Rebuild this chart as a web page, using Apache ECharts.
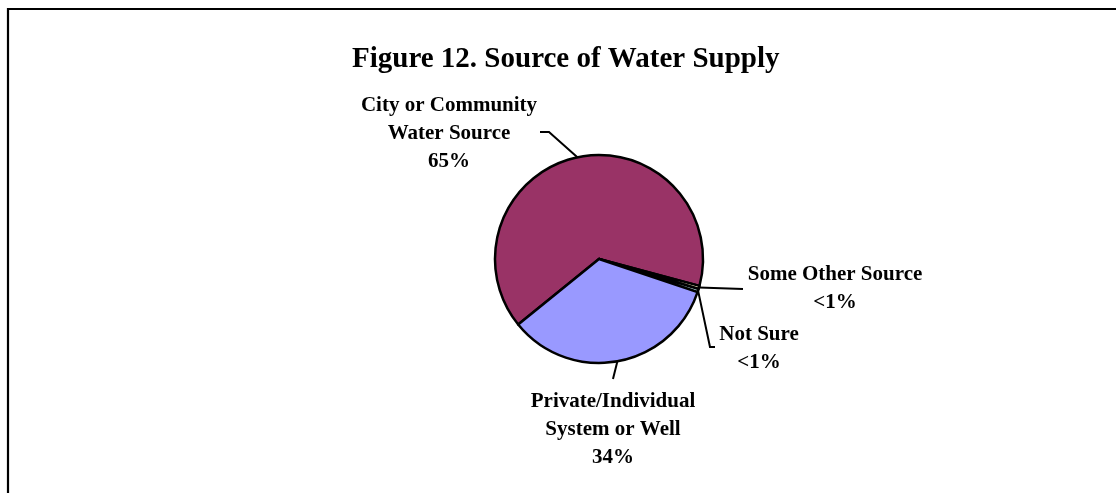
<!DOCTYPE html>
<html>
<head>
<meta charset="utf-8">
<script src="https://cdn.jsdelivr.net/npm/echarts@6/dist/echarts.min.js"></script>
<style>
  html, body { margin: 0; padding: 0; background: #fff; }
  #chart { width: 1116px; height: 493px; }
</style>
</head>
<body>
<div id="chart"></div>
<script>
// Survey answers: where the household water comes from (percent of respondents)
const categories = ['City or Community\nWater Source', 'Some Other Source', 'Not Sure', 'Private/Individual\nSystem or Well'];
const shares = [65, 0.5, 0.5, 34];
const sliceColors = ['#993366', '#FFFFCC', '#CCFFFF', '#9999FF'];
const chartTitle = 'Figure 12. Source of Water Supply';

// Label block centres, the point where each leader meets its label,
// and a short horizontal stub before the leader heads to the slice
const labelPlacement = [
  { x: 449, y: 134, lx: 91, ly: -2, stub: 9 },
  { x: 835, y: 289, lx: -92, ly: 0, stub: 0 },
  { x: 759, y: 349, lx: -44, ly: -2, stub: -5 },
  { x: 613, y: 430, lx: 0, ly: -51, stub: 0 }
];

const PIE_CENTER = [599, 259];
const PIE_RADIUS = 104;
const START_ANGLE = 219;

function percentText(v) {
  return v < 1 ? '<1%' : Math.round(v) + '%';
}

// Fallback: the point on the rim at the middle of a slice
function rimPoint(idx) {
  const total = shares.reduce((a, b) => a + b, 0);
  let before = 0;
  for (let i = 0; i < idx; i++) before += shares[i];
  const mid = START_ANGLE - (before + shares[idx] / 2) / total * 360;
  const rad = mid * Math.PI / 180;
  return [PIE_CENTER[0] + PIE_RADIUS * Math.cos(rad), PIE_CENTER[1] - PIE_RADIUS * Math.sin(rad)];
}

const chart = echarts.init(document.getElementById('chart'), null, { renderer: 'canvas' });

chart.setOption({
  animation: false,
  backgroundColor: '#ffffff',
  title: {
    text: chartTitle,
    left: 352,
    top: 45,
    padding: 0,
    textStyle: {
      fontFamily: '"Liberation Serif", "Times New Roman", serif',
      fontWeight: 'bold',
      fontSize: 29,
      color: '#000'
    }
  },
  graphic: [
    { type: 'line', shape: { x1: 7, y1: 9, x2: 1116, y2: 9 }, style: { stroke: '#000', lineWidth: 2.2 } },
    { type: 'line', shape: { x1: 8, y1: 8, x2: 8, y2: 493 }, style: { stroke: '#000', lineWidth: 2.2 } }
  ],
  series: [{
    type: 'pie',
    center: PIE_CENTER,
    radius: PIE_RADIUS,
    startAngle: START_ANGLE,
    clockwise: true,
    avoidLabelOverlap: false,
    emphasis: { disabled: true },
    itemStyle: { borderColor: '#000', borderWidth: 2.5 },
    label: {
      show: true,
      position: 'outside',
      formatter: p => p.name + '\n' + percentText(p.value),
      fontFamily: '"Liberation Serif", "Times New Roman", serif',
      fontWeight: 'bold',
      fontSize: 21,
      lineHeight: 28,
      color: '#000',
      align: 'center'
    },
    labelLine: {
      show: true,
      length: 10,
      length2: 10,
      lineStyle: { color: '#000', width: 2 }
    },
    labelLayout: function (params) {
      const pl = labelPlacement[params.dataIndex];
      const edge = (params.labelLinePoints && params.labelLinePoints[0]) || rimPoint(params.dataIndex);
      const end = [pl.x + pl.lx, pl.y + pl.ly];
      const bend = [end[0] + pl.stub, end[1]];
      return {
        x: pl.x,
        y: pl.y,
        align: 'center',
        verticalAlign: 'middle',
        labelLinePoints: [edge, bend, end]
      };
    },
    data: categories.map((name, i) => ({
      name: name,
      value: shares[i],
      itemStyle: { color: sliceColors[i] }
    }))
  }]
});
</script>
</body>
</html>
